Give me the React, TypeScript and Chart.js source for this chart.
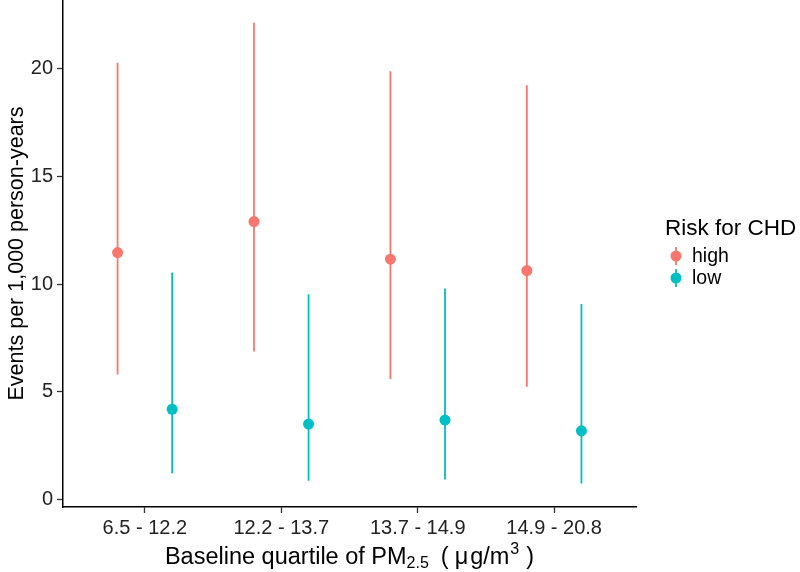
import React, { useEffect, useRef } from "react";
import { Chart, registerables } from "chart.js";

Chart.register(...registerables);

const categories = ["6.5 - 12.2", "12.2 - 13.7", "13.7 - 14.9", "14.9 - 20.8"];
const seriesNames = ["high", "low"];
const highRate = [11.47, 12.91, 11.16, 10.63];
const highLower = [5.81, 6.87, 5.6, 5.24];
const highUpper = [20.28, 22.14, 19.89, 19.24];
const lowRate = [4.19, 3.5, 3.69, 3.19];
const lowLower = [1.21, 0.87, 0.93, 0.74];
const lowUpper = [10.54, 9.53, 9.8, 9.08];
const yTicks = [0, 5, 10, 15, 20];
const colors = ["#F8766D", "#00BFC4"];
const dodge = 0.2;

const FONT = "'Liberation Sans', Arial, Helvetica, sans-serif";

const errorBarPlugin = {
  id: "errorBars",
  beforeDatasetsDraw(chart: any) {
    const ctx = chart.ctx;
    const xs = chart.scales.x;
    const ys = chart.scales.y;
    ctx.save();
    chart.data.datasets.forEach((ds: any) => {
      ctx.strokeStyle = ds.borderColor;
      ctx.lineWidth = 1.8;
      ds.data.forEach((p: any) => {
        const x = xs.getPixelForValue(p.x);
        ctx.beginPath();
        ctx.moveTo(x, ys.getPixelForValue(p.lo));
        ctx.lineTo(x, ys.getPixelForValue(p.hi));
        ctx.stroke();
      });
    });
    ctx.restore();
  },
};

const textPlugin = {
  id: "texts",
  afterDraw(chart: any) {
    const ctx = chart.ctx;
    const area = chart.chartArea;
    ctx.save();
    ctx.fillStyle = "#000";

    // Y axis title
    ctx.save();
    ctx.translate(23, (area.top + area.bottom) / 2);
    ctx.rotate(-Math.PI / 2);
    ctx.font = `21.5px ${FONT}`;
    ctx.textAlign = "center";
    ctx.textBaseline = "alphabetic";
    ctx.fillText("Events per 1,000 person-years", 0, 0);
    ctx.restore();

    // X axis title with sub/superscripts
    const runs = [
      { t: "Baseline quartile of PM", size: 23.5, dy: 0, gap: 0 },
      { t: "2.5", size: 16, dy: 4, gap: 0 },
      { t: "(", size: 23.5, dy: 0, gap: 12 },
      { t: "\u03bc", size: 23.5, dy: 0, gap: 6 },
      { t: "g/m", size: 23.5, dy: 0, gap: 2 },
      { t: "3", size: 16, dy: -10, gap: 1 },
      { t: ")", size: 23.5, dy: 0, gap: 7 },
    ];
    let total = 0;
    const widths = runs.map((r) => {
      ctx.font = `${r.size}px ${FONT}`;
      const w = ctx.measureText(r.t).width;
      total += w + r.gap;
      return w;
    });
    let x = (area.left + area.right) / 2 - total / 2;
    const baseY = 564;
    ctx.textAlign = "left";
    ctx.textBaseline = "alphabetic";
    runs.forEach((r, i) => {
      x += r.gap;
      ctx.font = `${r.size}px ${FONT}`;
      ctx.fillText(r.t, x, baseY + r.dy);
      x += widths[i];
    });

    // Legend
    ctx.font = `22.5px ${FONT}`;
    ctx.fillText("Risk for CHD", 665, 235);
    const keyX = 676;
    const keyYs = [256, 278];
    seriesNames.forEach((name, i) => {
      const ky = keyYs[i];
      ctx.strokeStyle = colors[i];
      ctx.lineWidth = 1.8;
      ctx.beginPath();
      ctx.moveTo(keyX, ky - 9);
      ctx.lineTo(keyX, ky + 9);
      ctx.stroke();
      ctx.fillStyle = colors[i];
      ctx.beginPath();
      ctx.arc(keyX, ky, 5.5, 0, Math.PI * 2);
      ctx.fill();
      ctx.fillStyle = "#000";
      ctx.font = `19.5px ${FONT}`;
      ctx.textBaseline = "middle";
      ctx.fillText(name, 692, ky + 1);
      ctx.textBaseline = "alphabetic";
    });
    ctx.restore();
  },
};

export default function App() {
  const ref = useRef<HTMLCanvasElement | null>(null);

  useEffect(() => {
    if (!ref.current) return;
    const series = [
      { name: seriesNames[0], rate: highRate, lower: highLower, upper: highUpper, color: colors[0], off: -dodge },
      { name: seriesNames[1], rate: lowRate, lower: lowLower, upper: lowUpper, color: colors[1], off: dodge },
    ];
    const chart = new Chart(ref.current, {
      type: "scatter",
      data: {
        datasets: series.map((s) => ({
          label: s.name,
          data: s.rate.map((v, i) => ({ x: i + 1 + s.off, y: v, lo: s.lower[i], hi: s.upper[i] })),
          backgroundColor: s.color,
          borderColor: s.color,
          pointRadius: 5.5,
          pointBorderWidth: 0,
          pointHoverRadius: 5.5,
          showLine: false,
        })),
      } as any,
      options: {
        responsive: false,
        devicePixelRatio: 1,
        animation: false,
        events: [],
        layout: { autoPadding: false, padding: { left: 0, right: 164, top: 0, bottom: 0 } },
        plugins: {
          legend: { display: false },
          tooltip: { enabled: false },
          title: { display: false },
        },
        scales: {
          x: {
            type: "linear",
            min: 0.4,
            max: 4.6,
            afterBuildTicks: (s: any) => {
              s.ticks = categories.map((_, i) => ({ value: i + 1 }));
            },
            afterFit: (s: any) => {
              s.height = 65;
              s.paddingLeft = 0;
              s.paddingRight = 0;
            },
            ticks: {
              callback: (v: any) => categories[Math.round(Number(v)) - 1] ?? "",
              autoSkip: false,
              maxRotation: 0,
              minRotation: 0,
              font: { family: FONT, size: 20 },
              color: "#222",
              padding: 3,
            },
            grid: {
              display: true,
              drawOnChartArea: false,
              drawTicks: true,
              tickLength: 6,
              tickColor: "#333",
              tickWidth: 1.3,
            },
            border: { display: true, color: "#000", width: 1.5 },
          },
          y: {
            type: "linear",
            min: -0.35,
            max: 23.2,
            afterBuildTicks: (s: any) => {
              s.ticks = yTicks.map((v) => ({ value: v }));
            },
            afterFit: (s: any) => {
              s.width = 63;
              s.paddingTop = 0;
              s.paddingBottom = 0;
            },
            ticks: {
              font: { family: FONT, size: 20 },
              color: "#222",
              padding: 4,
            },
            grid: {
              display: true,
              drawOnChartArea: false,
              drawTicks: true,
              tickLength: 6,
              tickColor: "#333",
              tickWidth: 1.3,
            },
            border: { display: true, color: "#000", width: 1.5 },
          },
        },
      } as any,
      plugins: [errorBarPlugin, textPlugin],
    });
    return () => chart.destroy();
  }, []);

  return (
    <div style={{ position: "fixed", left: 0, top: 0, width: 800, height: 572, background: "#fff" }}>
      <canvas ref={ref} width={800} height={572} style={{ display: "block" }} />
    </div>
  );
}
